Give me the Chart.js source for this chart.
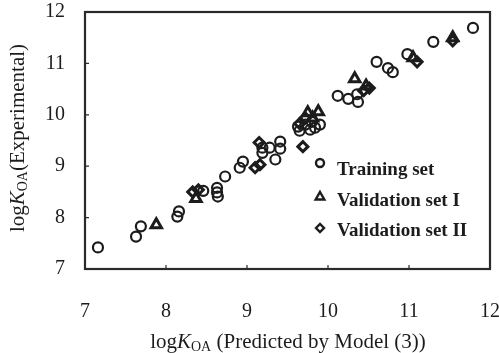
<!DOCTYPE html>
<html>
<head>
<meta charset="utf-8">
<script src="https://cdn.jsdelivr.net/npm/chart.js@4.4.0/dist/chart.umd.min.js"></script>
<style>
    html, body { margin: 0; padding: 0; background: #fff; }
    #wrap { width: 499px; height: 353px; }
</style>
</head>
<body>
<div id="wrap"><canvas id="koaChart"></canvas></div>
<script>
// values (predicted vs experimental logKOA)
const trainX = [7.16, 7.63, 7.69, 8.14, 8.16, 8.46, 8.63, 8.63, 8.64, 8.73, 8.91, 8.95, 9.19, 9.19, 9.28, 9.41, 9.41, 9.35,
    9.63, 9.72, 9.80, 9.90, 9.84, 9.78, 9.65, 10.12, 10.25, 10.37, 10.36, 10.60, 10.74, 10.80, 10.98, 11.30, 11.79];
const trainY = [7.42, 7.63, 7.83, 8.02, 8.12, 8.52, 8.58, 8.49, 8.41, 8.80, 8.97, 9.09, 9.26, 9.36, 9.36, 9.48, 9.34, 9.13,
    9.77, 9.81, 9.86, 9.81, 9.75, 9.71, 9.69, 10.37, 10.31, 10.25, 10.40, 11.03, 10.91, 10.83, 11.18, 11.42, 11.69];

const valIX = [7.88, 8.37, 9.75, 9.88, 9.81, 10.33, 10.47, 11.05, 11.54];
const valIY = [7.86, 8.37, 10.04, 10.06, 9.94, 10.70, 10.56, 11.11, 11.50];

const valIIX = [8.33, 8.40, 9.10, 9.16, 9.15, 9.69, 9.65, 9.72, 10.44, 10.51, 11.10, 11.54];
const valIIY = [8.50, 8.54, 8.97, 9.03, 9.46, 9.38, 9.83, 9.94, 10.47, 10.52, 11.03, 11.44];

const tickValues = [7, 8, 9, 10, 11, 12];
const legendLabels = ['Training set', 'Validation set I', 'Validation set II'];

const ink = '#1c1c1c';
const serif = '"Liberation Serif", "DejaVu Serif", serif';

function toPoints(xs, ys) {
    return xs.map((x, i) => ({ x: x, y: ys[i] }));
}

// draws a string made of pieces (normal / italic / subscript), centred on cx
function drawRich(ctx, parts, cx, cy) {
    let total = 0;
    parts.forEach(p => { ctx.font = p.font; total += ctx.measureText(p.t).width; });
    let x = cx - total / 2;
    parts.forEach(p => {
        ctx.font = p.font;
        ctx.fillText(p.t, x, cy + (p.dy || 0));
        x += ctx.measureText(p.t).width;
    });
}

function koaParts(rest) {
    return [
        { t: 'log', font: '21px ' + serif },
        { t: 'K', font: 'italic 21px ' + serif },
        { t: 'OA', font: '14px ' + serif, dy: 5 },
        { t: rest, font: '21px ' + serif }
    ];
}

const framePlugin = {
    id: 'frame',
    afterDraw(chart) {
        const ctx = chart.ctx;
        const area = chart.chartArea;
        const xs = chart.scales.x, ys = chart.scales.y;
        ctx.save();
        ctx.strokeStyle = '#2a2a2a';
        ctx.lineWidth = 2.2;
        ctx.strokeRect(area.left, area.top, area.right - area.left, area.bottom - area.top);

        // short inward tick marks
        ctx.lineWidth = 1.2;
        ctx.beginPath();
        tickValues.slice(1, -1).forEach(v => {
            const px = xs.getPixelForValue(v);
            ctx.moveTo(px, area.bottom);
            ctx.lineTo(px, area.bottom - 4);
            const py = ys.getPixelForValue(v);
            ctx.moveTo(area.left, py);
            ctx.lineTo(area.left + 4, py);
        });
        ctx.stroke();

        // axis titles
        ctx.fillStyle = ink;
        ctx.textBaseline = 'middle';
        ctx.textAlign = 'left';
        drawRich(ctx, koaParts(' (Predicted by Model (3))'), 288, 342);
        ctx.translate(18, 138);
        ctx.rotate(-Math.PI / 2);
        drawRich(ctx, koaParts('(Experimental)'), 0, 0);
        ctx.restore();

        // legend inside the plot
        ctx.save();
        const styles = ['circle', 'triangle', 'rectRot'];
        const radii = [4, 5, 4];
        const markY = [163, 197, 228];
        const textY = [170, 201, 231];
        ctx.strokeStyle = ink;
        ctx.fillStyle = 'rgba(0,0,0,0)';
        ctx.lineWidth = 2.4;
        styles.forEach((s, i) => {
            Chart.helpers.drawPoint(ctx, { pointStyle: s, radius: radii[i], borderWidth: 2.4 }, 320, markY[i]);
        });
        ctx.fillStyle = ink;
        ctx.font = 'bold 19px ' + serif;
        ctx.textBaseline = 'middle';
        legendLabels.forEach((t, i) => ctx.fillText(t, 337, textY[i]));
        ctx.restore();
    }
};

const ctx = document.getElementById('koaChart').getContext('2d');
new Chart(ctx, {
    type: 'scatter',
    data: {
        datasets: [
            {
                label: legendLabels[0],
                data: toPoints(trainX, trainY),
                pointStyle: 'circle',
                pointRadius: 5,
                borderWidth: 2.2,
                borderColor: ink,
                backgroundColor: 'rgba(0,0,0,0)'
            },
            {
                label: legendLabels[1],
                data: toPoints(valIX, valIY),
                pointStyle: 'triangle',
                pointRadius: 6,
                borderWidth: 3,
                borderColor: ink,
                backgroundColor: 'rgba(0,0,0,0)'
            },
            {
                label: legendLabels[2],
                data: toPoints(valIIX, valIIY),
                pointStyle: 'rectRot',
                pointRadius: 5,
                borderWidth: 3,
                borderColor: ink,
                backgroundColor: 'rgba(0,0,0,0)'
            }
        ]
    },
    options: {
        responsive: true,
        maintainAspectRatio: false,
        animation: false,
        layout: { padding: { top: 12, right: 9, left: 0, bottom: 0 } },
        plugins: {
            legend: { display: false },
            tooltip: { enabled: false }
        },
        scales: {
            x: {
                type: 'linear',
                min: 7,
                max: 12,
                // fixed axis band; drop the label overhang padding so the frame keeps its place
                afterFit: s => { s.height = 84; s.paddingLeft = 0; s.paddingRight = 0; },
                afterBuildTicks: s => { s.ticks = tickValues.map(v => ({ value: v })); },
                ticks: { color: ink, padding: 31, font: { family: serif, size: 20 } },
                grid: { display: false, drawTicks: false },
                border: { display: false }
            },
            y: {
                type: 'linear',
                min: 7,
                max: 12,
                afterFit: s => { s.width = 85; s.paddingTop = 0; s.paddingBottom = 0; },
                afterBuildTicks: s => { s.ticks = tickValues.map(v => ({ value: v })); },
                ticks: { color: ink, padding: 20, font: { family: serif, size: 20 } },
                grid: { display: false, drawTicks: false },
                border: { display: false }
            }
        }
    },
    plugins: [framePlugin]
});
</script>
</body>
</html>
